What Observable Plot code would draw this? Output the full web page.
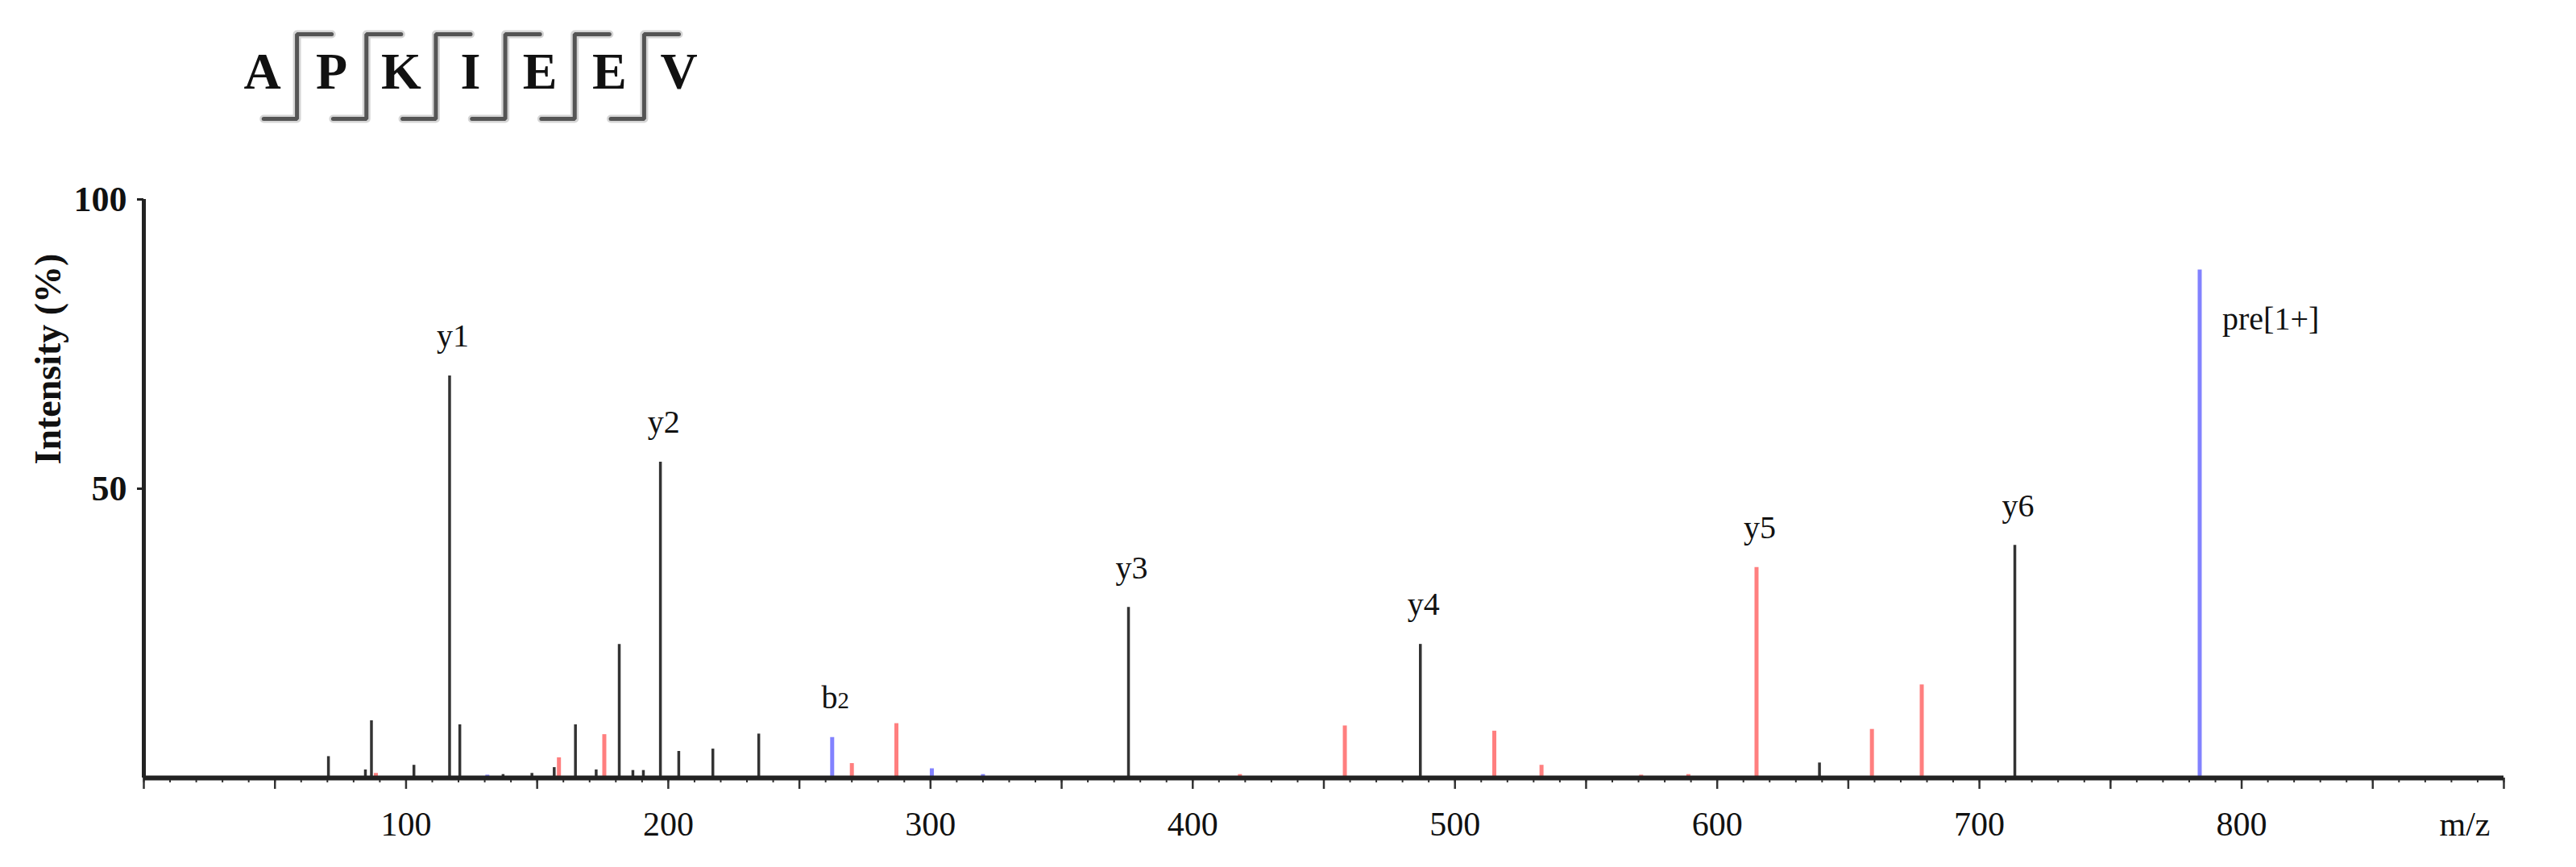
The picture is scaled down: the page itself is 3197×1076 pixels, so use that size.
<!DOCTYPE html>
<html><head><meta charset="utf-8">
<script src="https://cdn.jsdelivr.net/npm/d3@7"></script>
<script src="https://cdn.jsdelivr.net/npm/@observablehq/plot@0.6"></script>
<style>
html,body{margin:0;padding:0;background:#fff;}
#chart svg{display:block;}
</style></head><body><div id="chart"></div>
<script>
// ---- data ----
const residues = ["A","P","K","I","E","E","V"];

const blackMz  = [70.4, 84.5, 86.8, 103, 116.6, 120.5, 137, 148, 156.5, 164.6, 172.5, 181.3, 186.5, 190.5, 197, 204, 217, 234.5, 375.5, 486.8, 639, 713.5];
const blackInt = [3.7, 1.4, 9.9, 2.2, 69.5, 9.2, 0.6, 0.8, 1.8, 9.2, 1.4, 23.1, 1.3, 1.3, 54.6, 4.6, 5.0, 7.6, 29.5, 23.1, 2.6, 40.2];

const redMz  = [88.5, 158.3, 175.6, 270, 287, 418, 458, 515, 533, 571, 589, 615, 659, 678];
const redInt = [0.8, 3.5, 7.5, 2.5, 9.4, 0.6, 9.0, 8.1, 2.2, 0.5, 0.6, 36.4, 8.4, 16.1];

const blueMz  = [131, 262.5, 300.5, 320, 784];
const blueInt = [0.5, 7.0, 1.6, 0.6, 87.8];

const ionLabels = ["y1","y2","b2","y3","y4","y5","y6"];
const ionMz     = [116.6, 197, 262.5, 375.5, 486.8, 615, 713.5];
const precursorLabel = "pre[1+]";
const precursorMz = 784;

const xTickValues = [100, 200, 300, 400, 500, 600, 700, 800];
const yTickValues = [50, 100];
const xAxisTitle = "m/z";
const yAxisTitle = "Intensity (%)";

// ---- tables ----
const W = 3197;
const toRows = (mz, it) => mz.map((m, i) => ({mz: m, int: it[i]}));
const blackPeaks = toRows(blackMz, blackInt);
const redPeaks = toRows(redMz, redInt);
const bluePeaks = toRows(blueMz, blueInt);
const allPeaks = [...blackPeaks, ...redPeaks, ...bluePeaks];
const intensityAt = m => allPeaks.find(p => p.mz === m).int;
const ionTable = ionLabels.map((t, i) => ({label: t, mz: ionMz[i], int: intensityAt(ionMz[i])}));
const preTable = [{label: precursorLabel, mz: precursorMz, int: intensityAt(precursorMz)}];

// fragmentation brackets between residues (header)
const bracketPts = [];
for (let i = 0; i < residues.length - 1; i++) {
  const c = i + 0.5;
  bracketPts.push({k: i, x: c - 0.48, y: 0}, {k: i, x: c, y: 0}, {k: i, x: c, y: 1}, {k: i, x: c + 0.5, y: 1});
}

const FONT = "'Liberation Serif', 'Times New Roman', serif";

const header = Plot.plot({
  width: W, height: 160, margin: 0,
  x: {domain: [0, residues.length - 1], range: [325, 842], axis: null},
  y: {domain: [0, 1], range: [147, 42], axis: null},
  style: {fontFamily: FONT, color: "#111", background: "#fff"},
  marks: [
    Plot.line(bracketPts, {x: "x", y: "y", z: "k", stroke: "#bbb", strokeWidth: 10, strokeLinejoin: "round", strokeOpacity: 0.6}),
    Plot.line(bracketPts, {x: "x", y: "y", z: "k", stroke: "#555", strokeWidth: 5, strokeLinejoin: "miter"}),
    Plot.text(residues, {x: (d, i) => i, text: d => d, dy: 9, fontSize: 64, fontWeight: "bold", lineAnchor: "middle", fill: "#111"})
  ]
});

const main = Plot.plot({
  width: W, height: 916,
  marginLeft: 178, marginRight: 90, marginTop: 87, marginBottom: 111,
  x: {domain: [0, 900], label: null},
  y: {domain: [0, 100], label: null},
  style: {fontFamily: FONT, color: "#111", background: "#fff"},
  marks: [
    Plot.ruleX(blackPeaks, {x: "mz", y1: 0, y2: "int", stroke: "#333", strokeWidth: 3.5}),
    Plot.ruleX(redPeaks, {x: "mz", y1: 0, y2: "int", stroke: "#ff7f7f", strokeWidth: 5}),
    Plot.ruleX(bluePeaks, {x: "mz", y1: 0, y2: "int", stroke: "#8282ff", strokeWidth: 5}),
    Plot.axisX({ticks: d3.range(0, 901, 10), tickSize: 6, fill: "none", label: null, stroke: "#333", strokeWidth: 2}),
    Plot.axisX({ticks: d3.range(0, 901, 50), tickSize: 14, fill: "none", label: null, stroke: "#333", strokeWidth: 2.5}),
    Plot.axisX({ticks: xTickValues, tickSize: 0, tickPadding: 42, fontSize: 42, label: null, fill: "#111"}),
    Plot.axisY({ticks: yTickValues, tickSize: 8, tickPadding: 13, fontSize: 44, fontWeight: "bold", label: null, stroke: "#222", strokeWidth: 3, fill: "#111"}),
    Plot.ruleY([0], {stroke: "#222", strokeWidth: 6}),
    Plot.ruleX([0], {stroke: "#222", strokeWidth: 5}),
    Plot.text(ionTable, {x: "mz", y: "int", text: "label", dx: 4, dy: -49, fontSize: 40, lineAnchor: "middle", fill: "#111"}),
    Plot.text(preTable, {x: "mz", y: "int", text: "label", textAnchor: "start", dx: 28, dy: 61, fontSize: 40, lineAnchor: "middle", fill: "#111"}),
    Plot.text([yAxisTitle], {text: d => d, frameAnchor: "left", dx: -118, dy: -30, rotate: -90, fontSize: 46, fontWeight: "bold", lineAnchor: "middle", fill: "#111"}),
    Plot.text([xAxisTitle], {text: d => d, frameAnchor: "bottom-right", dx: -17, dy: 58, fontSize: 42, lineAnchor: "middle", fill: "#111"})
  ]
});

// small "2" in b2, as in the reference
d3.select(main).selectAll("text").each(function() {
  if (this.textContent === "b2" && this.childElementCount === 0) {
    this.textContent = "b";
    d3.select(this).append("tspan").attr("font-size", "0.72em").text("2");
  }
});

const host = document.getElementById("chart");
host.append(header, main);
</script>
</body></html>
